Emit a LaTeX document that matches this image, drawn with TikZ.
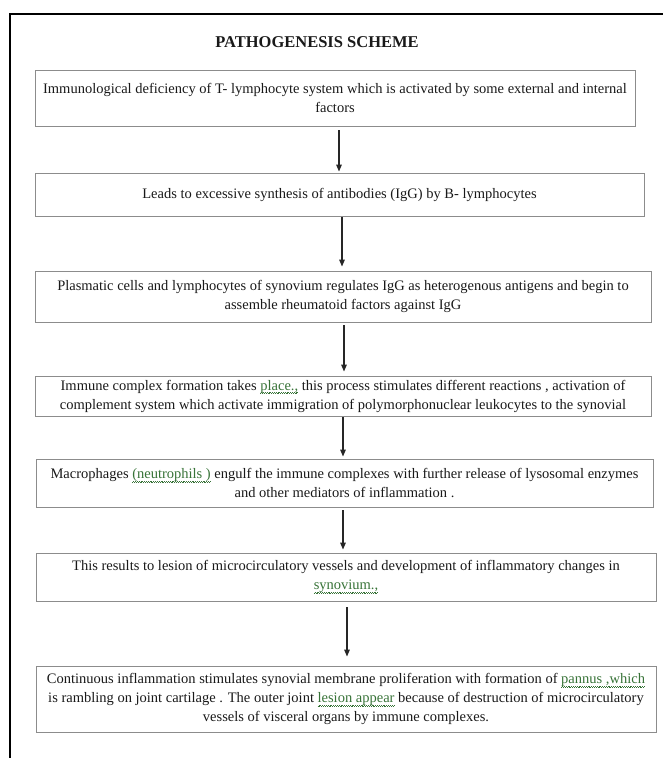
\documentclass[tikz,border=0pt]{standalone}
\usepackage{fontspec}
\setmainfont{Liberation Serif}
\usetikzlibrary{arrows.meta}
\definecolor{boxgray}{gray}{0.55}
\definecolor{txt}{gray}{0.1}
\definecolor{splgreen}{rgb}{0.22,0.45,0.22}
\newsavebox\splbox
\newcommand\splchk[1]{\sbox\splbox{#1}%
  \rlap{\color{splgreen}\hbox to \wd\splbox{\xleaders\hbox{\rule[-3.6pt]{0.9pt}{0.6pt}\rule[-2.9pt]{0.9pt}{0.6pt}}\hfill}}%
  \textcolor{splgreen}{#1}}
\begin{document}
\begin{tikzpicture}[x=1pt,y=-1pt,
  stepbox/.style={draw=boxgray, line width=0.9pt, inner sep=0pt, align=center,
    text=txt, font=\fontsize{14.5}{19}\selectfont},
  arr/.style={draw=black!85, line width=1.3pt, -{Triangle[length=7pt,width=5.5pt]}},
  titlestyle/.style={text=txt, font=\fontsize{16.5}{18}\selectfont\bfseries}]
\useasboundingbox (0,0) rectangle (663,758);
\draw[line width=2.2pt] (10,770) -- (10,14) -- (670,14);
\node[titlestyle] (title) at (317,42) {PATHOGENESIS SCHEME};
\node[stepbox, minimum width=600pt, minimum height=56pt] (b1) at (335,98)
  {Immunological deficiency of T- lymphocyte system which is activated by some external and internal\\ factors};
\node[stepbox, minimum width=609pt, minimum height=43pt] (b2) at (339.5,194.5)
  {Leads to excessive synthesis of antibodies (IgG) by B- lymphocytes};
\node[stepbox, minimum width=616pt, minimum height=51pt] (b3) at (343,296.5)
  {Plasmatic cells and lymphocytes of synovium regulates IgG as heterogenous antigens and begin to\\ assemble rheumatoid factors against IgG};
\node[stepbox, minimum width=616pt, minimum height=40pt] (b4) at (343,396)
  {Immune complex formation takes \splchk{place.,} this process stimulates different reactions , activation of\\ complement system which activate immigration of polymorphonuclear leukocytes to the synovial};
\node[stepbox, minimum width=617pt, minimum height=48pt] (b5) at (344.5,483)
  {Macrophages \splchk{(neutrophils )} engulf the immune complexes with further release of lysosomal enzymes\\ and other mediators of inflammation .};
\node[stepbox, minimum width=620pt, minimum height=48pt] (b6) at (346,577)
  {This results to lesion of microcirculatory vessels and development of inflammatory changes in\\ \splchk{synovium.,}};
\node[stepbox, minimum width=620pt, minimum height=66pt] (b7) at (346,699)
  {Continuous inflammation stimulates synovial membrane proliferation with formation of \splchk{pannus ,which}\\ is rambling on joint cartilage . The outer joint \splchk{lesion appear} because of destruction of microcirculatory\\ vessels of visceral organs by immune complexes.};
\draw[arr] ([xshift=4pt,yshift=-4pt]b1.south) -- ([xshift=-0.5pt,yshift=1pt]b2.north);
\draw[arr] ([xshift=2.5pt,yshift=-1pt]b2.south) -- ([xshift=-1pt,yshift=4pt]b3.north);
\draw[arr] ([xshift=1pt,yshift=-3pt]b3.south) -- ([xshift=1pt,yshift=4pt]b4.north);
\draw[arr] ([xshift=0pt,yshift=-1pt]b4.south) -- ([xshift=-1.5pt,yshift=2pt]b5.north);
\draw[arr] ([xshift=-1.5pt,yshift=-3pt]b5.south) -- ([xshift=-3pt,yshift=3pt]b6.north);
\draw[arr] ([xshift=1pt,yshift=-6pt]b6.south) -- ([xshift=1pt,yshift=9pt]b7.north);
\end{tikzpicture}
\end{document}
